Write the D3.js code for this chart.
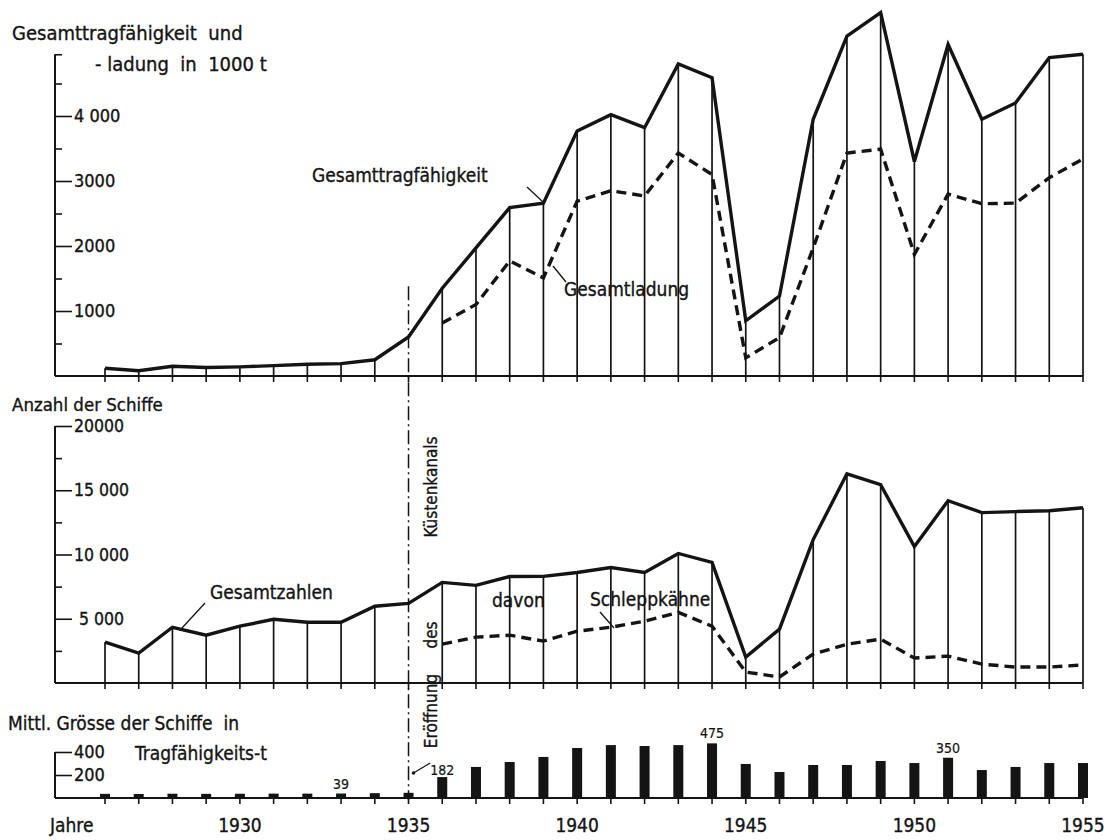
<!DOCTYPE html>
<html>
<head>
<meta charset="utf-8">
<script src="https://cdn.jsdelivr.net/npm/d3@7"></script>
<style>
  body { margin: 0; background: #fff; }
  text { font-family: "DejaVu Sans Condensed", "Liberation Sans Narrow", sans-serif; fill: #141414;
         stroke: #141414; stroke-width: 0.35; white-space: pre; }
</style>
</head>
<body>
<svg id="chart" width="1110" height="840"></svg>
<script>
// years on the x axis
const years = [1926, 1927, 1928, 1929, 1930, 1931, 1932, 1933, 1934, 1935,
  1936, 1937, 1938, 1939, 1940, 1941, 1942, 1943, 1944, 1945,
  1946, 1947, 1948, 1949, 1950, 1951, 1952, 1953, 1954, 1955];
const laterYears = years.slice(10); // 1936 - 1955

// Gesamttragfähigkeit (1000 t), 1926-1955
const tragfaehigkeit = [120, 80, 150, 130, 140, 160, 180, 190, 250, 600,
  1350, 1970, 2590, 2660, 3770, 4020, 3820, 4800, 4590, 850,
  1230, 3950, 5230, 5590, 3300, 5100, 3950, 4200, 4900, 4950];
// Gesamtladung (1000 t), 1936-1955
const ladung = [815, 1100, 1770, 1510, 2690, 2850, 2770, 3430, 3100, 280,
  590, 1970, 3430, 3490, 1870, 2800, 2650, 2660, 3050, 3340];

// Anzahl der Schiffe, 1926-1955
const gesamtzahlen = [3180, 2330, 4340, 3720, 4420, 4960, 4730, 4730, 5970, 6200,
  7830, 7600, 8290, 8300, 8600, 8990, 8600, 10080, 9380, 2020,
  4190, 11160, 16280, 15430, 10620, 14190, 13260, 13340, 13410, 13640];
// davon Schleppkähne, 1936-1955
const schleppkaehne = [3020, 3570, 3720, 3260, 4030, 4340, 4810, 5500, 4420, 850,
  465, 2250, 3020, 3410, 1940, 2090, 1470, 1240, 1240, 1400];

// Mittl. Grösse der Schiffe (Tragfähigkeits-t), 1926-1955
const groesse = [36, 35, 37, 36, 37, 38, 38, 39, 42, 45,
  182, 270, 313, 357, 435, 460, 452, 460, 475, 296,
  226, 287, 287, 322, 304, 350, 243, 270, 304, 304];
const groesseLabels = [[1933, '39'], [1936, '182'], [1944, '475'], [1951, '350']];

// tick labels
const topTicks = [1000, 2000, 3000, 4000];
const topTickLabels = ['1000', '2000', '3000', '4 000'];
const midTicks = [5000, 10000, 15000, 20000];
const midTickLabels = [' 5 000', '10 000', '15 000', '20000'];
const botTicks = [200, 400];
const yearLabels = [1930, 1935, 1940, 1945, 1950, 1955];

const svg = d3.select('#chart');
const ink = '#141414';

// shared x scale
const x = d3.scaleLinear().domain([1926, 1955]).range([105, 1083]);
const axisX = 55;
const openingYear = 1935;

// panel y scales
const yTop = d3.scaleLinear().domain([0, 5000]).range([376, 51]);
const yMid = d3.scaleLinear().domain([0, 20000]).range([683, 426]);
const yBot = d3.scaleLinear().domain([0, 400]).range([798, 752]);

/** draw one left axis with ticks pointing inwards */
function drawAxis(y, top, majors, labels, minors, fontSize) {
  const g = svg.append('g').attr('transform', `translate(${axisX},0)`);
  // minor ticks, no labels
  g.call(d3.axisRight(y).tickValues(minors).tickSize(7).tickFormat(''));
  // major ticks with labels
  const major = d3.axisRight(y).tickValues(majors).tickSize(17).tickPadding(2)
    .tickFormat((d, i) => labels[i]);
  g.append('g').call(major);
  g.selectAll('.domain').remove();
  g.selectAll('line').attr('stroke', ink).attr('stroke-width', 1.6);
  g.selectAll('text').style('font-size', fontSize + 'px').attr('fill', ink);
  // axis spine
  g.append('line')
    .attr('y1', y(0)).attr('y2', y(top))
    .attr('stroke', ink).attr('stroke-width', 2);
}

/** base line with year ticks below */
function drawBase(y) {
  svg.append('line')
    .attr('x1', axisX).attr('x2', x(1955))
    .attr('y1', y(0)).attr('y2', y(0))
    .attr('stroke', ink).attr('stroke-width', 2);
  svg.append('g').selectAll('line').data(years).join('line')
    .attr('x1', d => x(d)).attr('x2', d => x(d))
    .attr('y1', y(0)).attr('y2', y(0) + 6)
    .attr('stroke', ink).attr('stroke-width', 1.6);
}

/** vertical drop lines from base to the solid line */
function drawDrops(y, values) {
  const rows = years.map((yr, i) => ({ yr, v: values[i] })).filter(d => d.yr !== openingYear);
  svg.append('g').selectAll('line').data(rows).join('line')
    .attr('x1', d => x(d.yr)).attr('x2', d => x(d.yr))
    .attr('y1', y(0)).attr('y2', d => y(d.v))
    .attr('stroke', ink).attr('stroke-width', 1.7);
}

function drawLine(y, xs, values, dashed) {
  const line = d3.line().x(d => x(d[0])).y(d => y(d[1]));
  svg.append('path')
    .datum(xs.map((yr, i) => [yr, values[i]]))
    .attr('d', line)
    .attr('fill', 'none')
    .attr('stroke', ink)
    .attr('stroke-width', 3.4)
    .attr('stroke-linejoin', 'miter')
    .attr('stroke-dasharray', dashed ? '10,6' : null);
}

function label(txt, lx, ly, size, anchor) {
  return svg.append('text')
    .attr('x', lx).attr('y', ly)
    .attr('text-anchor', anchor || 'start')
    .style('font-size', size + 'px')
    .text(txt);
}

function leader(x1, y1, x2, y2) {
  svg.append('line')
    .attr('x1', x1).attr('y1', y1).attr('x2', x2).attr('y2', y2)
    .attr('stroke', ink).attr('stroke-width', 1.3);
}

// ---------- top panel: Tragfähigkeit / Ladung ----------
drawAxis(yTop, 4950, topTicks, topTickLabels, [500, 1500, 2500, 3500, 4500, 4950], 18);
drawBase(yTop);
drawDrops(yTop, tragfaehigkeit);
drawLine(yTop, years, tragfaehigkeit, false);
drawLine(yTop, laterYears, ladung, true);

label('Gesamttragfähigkeit  und', 12, 40, 20);
label('- ladung  in  1000 t', 95, 71, 20);
label('Gesamttragfähigkeit', 312, 182, 19);
leader(527, 187, 543, 202);
label('Gesamtladung', 564, 296, 19);
leader(553, 266, 566, 282);

// ---------- middle panel: Anzahl der Schiffe ----------
drawAxis(yMid, 20000, midTicks, midTickLabels, [2500, 7500, 12500, 17500], 17.5);
drawBase(yMid);
drawDrops(yMid, gesamtzahlen);
drawLine(yMid, years, gesamtzahlen, false);
drawLine(yMid, laterYears, schleppkaehne, true);

label('Anzahl der Schiffe', 12, 411, 18.5);
label('Gesamtzahlen', 210, 599, 19);
leader(205, 603, 182, 628);
label('davon', 492, 607, 19);
label('Schleppkähne', 590, 606, 19);
leader(600, 612, 614, 628);

// ---------- bottom panel: mittlere Grösse ----------
drawAxis(yBot, 400, botTicks, botTicks.map(String), [], 18);
drawBase(yBot);

const barW = 10;
svg.append('g').selectAll('rect')
  .data(years.map((yr, i) => ({ yr, v: groesse[i] })))
  .join('rect')
  .attr('x', d => x(d.yr) - barW / 2)
  .attr('y', d => yBot(d.v))
  .attr('width', barW)
  .attr('height', d => yBot(0) - yBot(d.v))
  .attr('fill', ink);

svg.append('g').selectAll('text')
  .data(groesseLabels)
  .join('text')
  .attr('x', d => x(d[0]))
  .attr('y', d => yBot(groesse[years.indexOf(d[0])]) - (d[0] === 1936 ? 2 : 5))
  .attr('text-anchor', 'middle')
  .style('font-size', '14px')
  .style('stroke-width', 0.2)
  .text(d => d[1]);
// leader with dot for the 182 note
leader(x(openingYear) + 5, 773, x(1936) - 12, 763);
svg.append('circle')
  .attr('cx', x(openingYear) + 5).attr('cy', 773).attr('r', 1.8)
  .attr('fill', ink);

label('Mittl. Grösse der Schiffe  in', 8, 730, 19);
label('Tragfähigkeits-t', 135, 760, 19);

// year labels
svg.append('g').selectAll('text')
  .data(yearLabels)
  .join('text')
  .attr('x', d => x(d))
  .attr('y', 832)
  .attr('text-anchor', 'middle')
  .style('font-size', '19px')
  .text(d => d);
label('Jahre', 50, 832, 19);

// ---------- opening of the coastal canal ----------
svg.append('line')
  .attr('x1', x(openingYear)).attr('x2', x(openingYear))
  .attr('y1', yTop(1380)).attr('y2', yBot(0) + 2)
  .attr('stroke', ink).attr('stroke-width', 1.5)
  .attr('stroke-dasharray', '14,4,2,4');

const openX = x(openingYear) + 28;
[['Küstenkanals', 487], ['des', 635], ['Eröffnung', 711]].forEach(([t, cy]) => {
  svg.append('text')
    .attr('transform', `translate(${openX},${cy}) rotate(-90)`)
    .attr('text-anchor', 'middle')
    .style('font-size', '17px')
    .text(t);
});
</script>
</body>
</html>
